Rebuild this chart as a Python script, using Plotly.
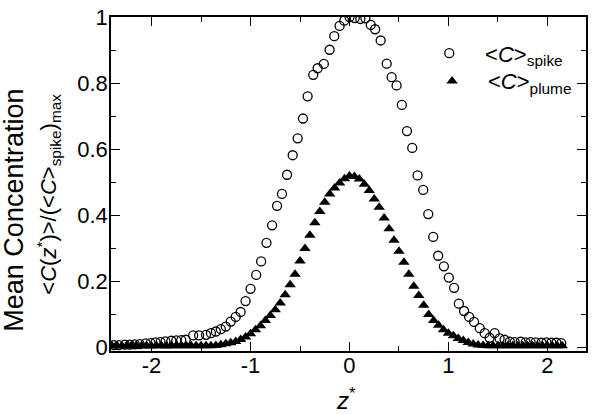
import plotly.graph_objects as go

# <C>spike (open circles)
spike_x = [-2.38, -2.33, -2.27, -2.22, -2.17, -2.12, -2.06, -2.01, -1.96, -1.91, -1.86, -1.80, -1.75, -1.70,
           -1.655, -1.58, -1.52, -1.45, -1.40, -1.35, -1.30, -1.25, -1.20, -1.15, -1.10, -1.05, -1.00,
           -0.943, -0.893, -0.839, -0.782, -0.732, -0.682, -0.631, -0.574, -0.524, -0.47, -0.423, -0.366,
           -0.322, -0.259, -0.201, -0.154, -0.10, -0.053, 0.0, 0.053, 0.11, 0.161, 0.215, 0.259, 0.315,
           0.376, 0.426, 0.476, 0.529, 0.581, 0.634, 0.688, 0.745, 0.796, 0.846, 0.896, 0.954, 1.004,
           1.057, 1.105, 1.158, 1.209, 1.259, 1.316, 1.366, 1.416, 1.467, 1.517, 1.567, 1.62, 1.67, 1.73,
           1.78, 1.83, 1.88, 1.94, 1.99, 2.04, 2.09, 2.14]
spike_y = [0.008, 0.008, 0.009, 0.009, 0.010, 0.011, 0.013, 0.014, 0.016, 0.017, 0.019, 0.021, 0.022, 0.023,
           0.024, 0.037, 0.037, 0.039, 0.044, 0.049, 0.056, 0.064, 0.079, 0.093, 0.108, 0.141, 0.178,
           0.220, 0.261, 0.317, 0.370, 0.429, 0.465, 0.523, 0.582, 0.633, 0.693, 0.760, 0.825,
           0.845, 0.858, 0.901, 0.942, 0.973, 0.989, 1.000, 0.997, 0.994, 0.996, 0.976, 0.963, 0.929,
           0.859, 0.818, 0.793, 0.734, 0.655, 0.604, 0.521, 0.477, 0.404, 0.335, 0.278, 0.246, 0.212,
           0.181, 0.133, 0.111, 0.093, 0.078, 0.059, 0.044, 0.030, 0.044, 0.028, 0.024, 0.018, 0.017, 0.018,
           0.016, 0.017, 0.016, 0.015, 0.016, 0.015, 0.015, 0.014]

# <C>plume (filled triangles)
plume_x = [-2.40, -2.35, -2.30, -2.25, -2.20, -2.15, -2.10, -2.05, -2.00, -1.95, -1.90, -1.85, -1.80, -1.75,
           -1.70, -1.65, -1.60, -1.55, -1.50, -1.45, -1.40, -1.35, -1.30, -1.25, -1.20, -1.15, -1.10, -1.05,
           -1.00, -0.95, -0.90, -0.85, -0.80, -0.75, -0.70, -0.65, -0.60, -0.55, -0.50, -0.45, -0.40, -0.35,
           -0.30, -0.25, -0.20, -0.15, -0.10, -0.05, 0.00, 0.05, 0.10, 0.15, 0.20, 0.25, 0.30, 0.35, 0.40,
           0.45, 0.50, 0.55, 0.60, 0.65, 0.70, 0.75, 0.80, 0.85, 0.90, 0.95, 1.00, 1.05, 1.10, 1.15, 1.20,
           1.25, 1.30, 1.35, 1.40, 1.45, 1.50, 1.55, 1.60, 1.65, 1.70, 1.75, 1.80, 1.85, 1.90, 1.95, 2.00,
           2.05, 2.10, 2.15]
plume_y = [0.005, 0.006, 0.005, 0.006, 0.005, 0.005, 0.006, 0.006, 0.005, 0.006, 0.006, 0.005, 0.006, 0.006,
           0.006, 0.006, 0.006, 0.006, 0.006, 0.006, 0.006, 0.007, 0.009, 0.012, 0.015, 0.019, 0.025, 0.032,
           0.042, 0.054, 0.066, 0.082, 0.097, 0.115, 0.135, 0.160, 0.190, 0.222, 0.262, 0.300, 0.340, 0.378,
           0.412, 0.440, 0.465, 0.483, 0.498, 0.511, 0.519, 0.518, 0.510, 0.494, 0.475, 0.450, 0.425, 0.392, 0.360,
           0.325, 0.292, 0.258, 0.222, 0.186, 0.158, 0.128, 0.100, 0.082, 0.068, 0.054, 0.044, 0.036, 0.028,
           0.022, 0.016, 0.011, 0.008, 0.007, 0.006, 0.006, 0.006, 0.006, 0.006, 0.006, 0.006, 0.006, 0.006,
           0.006, 0.006, 0.006, 0.006, 0.006, 0.006, 0.006, 0.006]

x_tickvals = [-2, -1, 0, 1, 2]
x_ticktext = ["-2", "-1", "0", "1", "2"]
y_tickvals = [0, 0.2, 0.4, 0.6, 0.8, 1]
y_ticktext = ["0", "0.2", "0.4", "0.6", "0.8", "1"]

FONT = "Arial, Liberation Sans, sans-serif"
PAD = "\u00a0\u00a0<span style='font-size:13px'>\u00a0</span>"

fig = go.Figure()
fig.add_trace(go.Scatter(
    x=spike_x, y=spike_y, mode="markers",
    name=PAD + "&lt;<i>C</i>&gt;<sub>spike</sub>",
    marker=dict(symbol="circle-open", size=9, color="black", line=dict(width=1.3, color="black")),
    legend="legend",
))
fig.add_trace(go.Scatter(
    x=plume_x, y=plume_y, mode="markers",
    name=PAD + "&lt;<i>C</i>&gt;<sub>plume</sub>",
    marker=dict(symbol="triangle-up", size=10, color="black"),
    legend="legend2",
))

axis_common = dict(
    showline=True, linecolor="black", linewidth=1.5, mirror="ticks",
    ticks="inside", ticklen=9, tickwidth=1.3, tickcolor="black",
    showgrid=False, zeroline=False,
    tickfont=dict(family=FONT, size=22, color="black"),
)
fig.update_xaxes(
    range=[-2.41, 2.39], tickvals=x_tickvals, ticktext=x_ticktext,
    minor=dict(dtick=0.5, tick0=0, ticks="inside", ticklen=5, tickwidth=1.3, tickcolor="black", showgrid=False),
    ticklabelstandoff=-6,
    **axis_common,
)
fig.update_yaxes(
    range=[-0.01, 1.0], tickvals=y_tickvals, ticktext=y_ticktext,
    minor=dict(dtick=0.1, tick0=0, ticks="inside", ticklen=5, tickwidth=1.3, tickcolor="black", showgrid=False),
    ticklabelstandoff=-3,
    **axis_common,
)

legend_common = dict(xanchor="left", yanchor="top", bgcolor="rgba(0,0,0,0)",
                     font=dict(family=FONT, size=22, color="black"), itemwidth=30)

fig.update_layout(
    width=593, height=414,
    margin=dict(l=111, r=5, t=14, b=63),
    paper_bgcolor="white", plot_bgcolor="white",
    font=dict(family=FONT, color="black"),
    showlegend=True,
    legend=dict(x=0.67, y=0.954, **legend_common),
    legend2=dict(x=0.676, y=0.871, **legend_common),
    annotations=[
        dict(text="Mean Concentration", xref="paper", yref="paper", x=-111/477 + 14/477, y=(351-209)/337,
             xanchor="center", yanchor="middle", textangle=-90, showarrow=False,
             font=dict(family=FONT, size=27, color="black")),
        dict(text="&lt;<i>C</i>(<i>z</i><sup>*</sup>)&gt;/(&lt;<i>C</i>&gt;<sub>spike</sub>)<sub>max</sub>",
             xref="paper", yref="paper", x=-111/477 + 48/477, y=(351-193)/337,
             xanchor="center", yanchor="middle", textangle=-90, showarrow=False,
             font=dict(family=FONT, size=22, color="black")),
        dict(text="<i>z</i><sup>*</sup>", xref="paper", yref="paper", x=(347-111)/477, y=-(399-351)/337,
             xanchor="center", yanchor="middle", showarrow=False,
             font=dict(family=FONT, size=24, color="black")),
    ],
)

fig.write_html("out.html")
